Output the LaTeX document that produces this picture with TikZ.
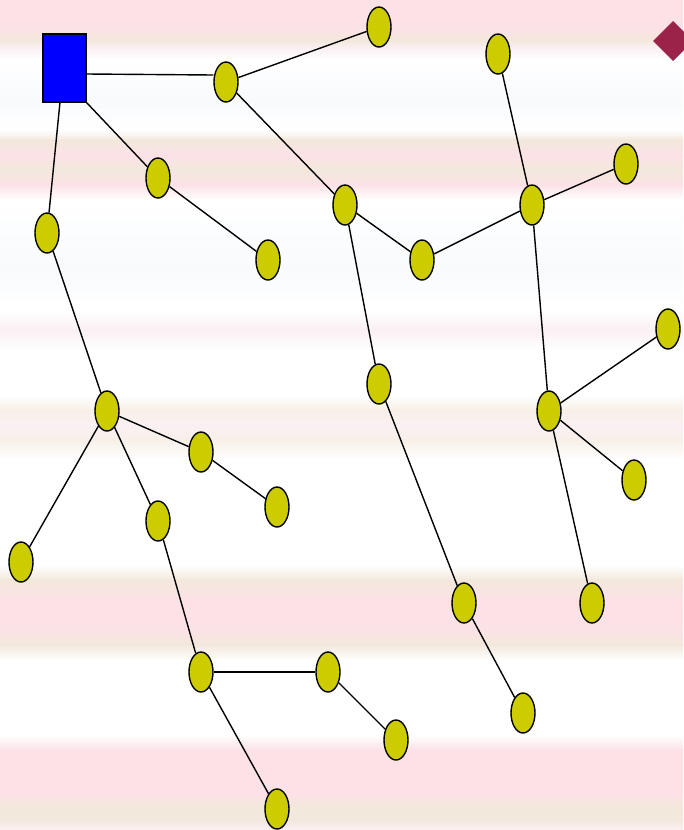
\documentclass[tikz,border=0pt]{standalone}
\usetikzlibrary{shapes.geometric}
\definecolor{pk}{RGB}{252,226,231}
\definecolor{bg}{RGB}{243,232,220}
\definecolor{lb}{RGB}{247,240,232}
\definecolor{wh}{RGB}{255,255,255}
\definecolor{wb}{RGB}{248,250,252}
\definecolor{lp}{RGB}{250,240,243}
\definecolor{nodey}{RGB}{204,204,0}
\definecolor{maroon}{RGB}{155,35,73}
\tikzset{
  leaf/.style={ellipse, draw=black, line width=1.4pt, fill=nodey, minimum width=24pt, minimum height=40pt, inner sep=0pt},
  rootbox/.style={rectangle, draw=black, line width=1.2pt, fill=blue, minimum width=43pt, minimum height=68pt, inner sep=0pt},
  edge/.style={draw=black, line width=1.4pt}
}
\begin{document}
\begin{tikzpicture}[x=1pt,y=-1pt]
\useasboundingbox (0,0) rectangle (683,830);
\foreach \ya/\ca/\yb/\cb in {0/pk/30/pk, 30/pk/40/bg, 40/bg/48/lp, 48/lp/60/wh, 60/wh/100/wb, 100/wb/130/wh,
  130/wh/140/bg, 140/bg/155/pk, 155/pk/170/bg, 170/bg/185/pk, 185/pk/200/wh, 200/wh/270/wb, 270/wb/310/wh,
  310/wh/330/lp, 330/lp/350/wh, 350/wh/395/wh, 395/wh/410/lb, 410/lb/425/lp, 425/lp/440/lb, 440/lb/460/wh,
  460/wh/565/wh, 565/wh/580/bg, 580/bg/600/pk, 600/pk/630/pk, 630/pk/645/bg, 645/bg/660/wh, 660/wh/735/wh,
  735/wh/750/pk, 750/pk/795/pk, 795/pk/805/bg, 805/bg/820/bg, 820/bg/830/lp}
  {\shade[top color=\ca, bottom color=\cb] (0,\ya-0.3) rectangle (683,\yb+0.3);}
\fill[maroon] (653,41) -- (673,21) -- (693,41) -- (673,61) -- cycle;
\node[rootbox] (root) at (64.5,68) {};
\node[leaf] (A) at (226,82) {};
\node[leaf] (B) at (379,27) {};
\node[leaf] (C) at (158,178) {};
\node[leaf] (D) at (268,260) {};
\node[leaf] (E) at (47,233) {};
\node[leaf] (F) at (345,205) {};
\node[leaf] (G) at (422,260) {};
\node[leaf] (H) at (532,205) {};
\node[leaf] (I) at (498,54) {};
\node[leaf] (J) at (626,164) {};
\node[leaf] (K) at (379,384) {};
\node[leaf] (L) at (549,411) {};
\node[leaf] (M) at (668,329) {};
\node[leaf] (N) at (634,480) {};
\node[leaf] (O) at (592,603) {};
\node[leaf] (P) at (464,603) {};
\node[leaf] (Q) at (523,713) {};
\node[leaf] (R) at (107,411) {};
\node[leaf] (S) at (201,452) {};
\node[leaf] (T) at (277,507) {};
\node[leaf] (U) at (21,562) {};
\node[leaf] (V) at (158,521) {};
\node[leaf] (W) at (201,672) {};
\node[leaf] (X) at (328,672) {};
\node[leaf] (Y) at (396,740) {};
\node[leaf] (Z) at (277,809) {};
\path[edge] (root.east |- 0,74) -- (A.west |- 0,75);
\path[edge] (root.south east) -- (C);
\coordinate (rb) at (60,102);
\path[edge] (rb) -- (E);
\path[edge] (A) -- (B);
\path[edge] (A) -- (F);
\path[edge] (C) -- (D);
\path[edge] (E) -- (R);
\path[edge] (F) -- (G);
\path[edge] (F) -- (K);
\path[edge] (G) -- (H);
\path[edge] (H) -- (I);
\path[edge] (H) -- (J);
\path[edge] (H) -- (L);
\path[edge] (L) -- (M);
\path[edge] (L) -- (N);
\path[edge] (L) -- (O);
\path[edge] (K) -- (P);
\path[edge] (P) -- (Q);
\path[edge] (R) -- (S);
\path[edge] (S) -- (T);
\path[edge] (R) -- (U);
\path[edge] (R) -- (V);
\path[edge] (V) -- (W);
\path[edge] (W) -- (X);
\path[edge] (X) -- (Y);
\path[edge] (W) -- (Z);
\end{tikzpicture}
\end{document}
